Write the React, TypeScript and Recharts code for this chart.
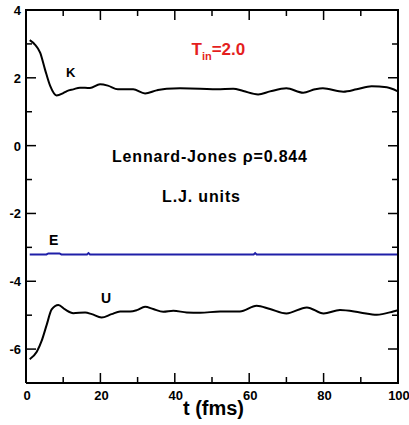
import React from 'react';
import { LineChart, Line, XAxis, YAxis } from 'recharts';

const kTime = [1, 2.4, 3.8, 5.1, 6.5, 8.2, 10, 11, 12.7, 14.5, 17.2, 19.9, 22, 24.7, 28.8, 32, 35.1, 37.8, 41.4, 46.8, 51.3, 55.7, 58.4, 62.4, 65.6, 70, 74.5, 77.7, 79.8, 85.3, 88.9, 92.9, 97, 99.8];
const kValues = [3.11, 2.98, 2.74, 2.25, 1.76, 1.48, 1.55, 1.61, 1.66, 1.71, 1.7, 1.81, 1.77, 1.66, 1.66, 1.54, 1.63, 1.68, 1.69, 1.68, 1.66, 1.68, 1.61, 1.51, 1.6, 1.69, 1.56, 1.66, 1.69, 1.59, 1.66, 1.75, 1.72, 1.61];

const uTime = [1, 2.9, 4.2, 5.6, 6.9, 8.7, 10.5, 12.7, 15.9, 17.7, 20.3, 23, 25.3, 28, 29.8, 32, 34.2, 36.9, 39.6, 43.2, 46.8, 52.2, 57.5, 62, 65.6, 70, 75.5, 80, 84.4, 89.8, 94.3, 98.7, 100];
const uValues = [-6.3, -6.08, -5.76, -5.27, -4.83, -4.7, -4.83, -4.94, -4.92, -4.97, -5.07, -4.97, -4.89, -4.89, -4.85, -4.75, -4.82, -4.9, -4.87, -4.92, -4.93, -4.89, -4.89, -4.72, -4.82, -4.95, -4.77, -4.95, -4.85, -4.92, -4.99, -4.89, -4.85];

const eTime = [1, 5.5, 6, 9, 9.5, 16.4, 16.8, 17.2, 61.2, 61.6, 62, 100];
const eValues = [-3.21, -3.21, -3.18, -3.18, -3.21, -3.21, -3.17, -3.21, -3.21, -3.17, -3.21, -3.21];

const xTicks = [0, 10, 20, 30, 40, 50, 60, 70, 80, 90, 100];
const xLabelEvery = 20;
const yTicks = [-7, -6, -5, -4, -3, -2, -1, 0, 1, 2, 3, 4];
const yLabelEvery = 2;
const xDomain = [0, 100];
const yDomain = [-7, 4];

const kData = kTime.map((t, i) => ({ t, v: kValues[i] }));
const uData = uTime.map((t, i) => ({ t, v: uValues[i] }));
const eData = eTime.map((t, i) => ({ t, v: eValues[i] }));

const FONT = '"Liberation Sans", Arial, Helvetica, sans-serif';
const MAJOR = 10;
const MINOR = 6;

const W = 409;
const H = 425;
const M = { top: 10, right: 11, bottom: 0, left: 0 };
const Y_AXIS_W = 26;
const X_AXIS_H = 42;
const PLOT = {
  left: M.left + Y_AXIS_W,
  right: W - M.right,
  top: M.top,
  bottom: H - M.bottom - X_AXIS_H,
};

const isMajor = (v: number, step: number) => Math.abs(Math.round(v) % step) === 0;
const seg = (x1: number, y1: number, x2: number, y2: number) => `M${x1},${y1}L${x2},${y2}`;
const tickStyle = { stroke: '#000', strokeWidth: 1.5, fill: 'none' };
const frameStyle = { stroke: '#000', strokeWidth: 2, fill: 'none' };

const BottomTick = (props: any) => {
  const { x, y, payload } = props;
  const major = isMajor(payload.value, xLabelEvery);
  return (
    <g>
      <path d={seg(x, y, x, y - (major ? MAJOR : MINOR))} stroke="#000" strokeWidth={1.5} style={tickStyle} />
      {major && (
        <text x={x + 1} y={y + 17} textAnchor="middle" fontFamily={FONT} fontWeight="bold" fontSize={13} fill="#000">
          {payload.value}
        </text>
      )}
    </g>
  );
};

const LeftTick = (props: any) => {
  const { x, y, payload } = props;
  const major = isMajor(payload.value, yLabelEvery);
  return (
    <g>
      <path d={seg(x, y, x + (major ? MAJOR : MINOR), y)} stroke="#000" strokeWidth={1.5} style={tickStyle} />
      {major && (
        <text x={x - 5} y={y + 5} textAnchor="end" fontFamily={FONT} fontWeight="bold" fontSize={13} fill="#000">
          {payload.value}
        </text>
      )}
    </g>
  );
};

const axisLine = { stroke: '#000', strokeWidth: 2 };

const px = (t: number) => PLOT.left + ((t - xDomain[0]) / (xDomain[1] - xDomain[0])) * (PLOT.right - PLOT.left);
const py = (v: number) => PLOT.bottom - ((v - yDomain[0]) / (yDomain[1] - yDomain[0])) * (PLOT.bottom - PLOT.top);

const framePath =
  seg(PLOT.left - 1, PLOT.top, PLOT.right + 1, PLOT.top) + seg(PLOT.right, PLOT.top, PLOT.right, PLOT.bottom + 1);
const mirrorTickPath =
  xTicks.map((t) => seg(px(t), PLOT.top, px(t), PLOT.top + (isMajor(t, xLabelEvery) ? MAJOR : MINOR))).join('') +
  yTicks.map((v) => seg(PLOT.right, py(v), PLOT.right - (isMajor(v, yLabelEvery) ? MAJOR : MINOR), py(v))).join('');

export default function App() {
  return (
    <div style={{ position: 'absolute', left: 0, top: 0, width: W, height: H, background: '#fff' }}>
      <LineChart width={W} height={H} margin={M}>
        <XAxis
          type="number"
          dataKey="t"
          domain={xDomain}
          ticks={xTicks}
          interval={0}
          allowDataOverflow
          height={X_AXIS_H}
          tickSize={0}
          tickMargin={0}
          tickLine={false}
          axisLine={axisLine}
          tick={<BottomTick />}
        />
        <YAxis
          type="number"
          domain={yDomain}
          ticks={yTicks}
          interval={0}
          allowDataOverflow
          width={Y_AXIS_W}
          tickSize={0}
          tickMargin={0}
          tickLine={false}
          axisLine={axisLine}
          tick={<LeftTick />}
        />
        <Line data={kData} dataKey="v" type="monotone" stroke="#000" strokeWidth={2} dot={false} isAnimationActive={false} />
        <Line data={uData} dataKey="v" type="monotone" stroke="#000" strokeWidth={2} dot={false} isAnimationActive={false} />
        <Line data={eData} dataKey="v" type="linear" stroke="#1f1fa8" strokeWidth={2} dot={false} isAnimationActive={false} />
      </LineChart>
      <svg width={W} height={H} style={{ position: 'absolute', left: 0, top: 0, pointerEvents: 'none', zIndex: 2 }}>
        <path d={framePath} stroke="#000" strokeWidth={2} style={frameStyle} />
        <path d={mirrorTickPath} stroke="#000" strokeWidth={1.5} style={tickStyle} />
        <g fontFamily={FONT} fontWeight="bold" fill="#000">
          <text x={66} y={77} fontSize={13}>K</text>
          <text x={49} y={245} fontSize={14}>E</text>
          <text x={101} y={303} fontSize={14}>U</text>
          <text x={112} y={162} fontSize={16} textLength={195} lengthAdjust="spacing">Lennard-Jones  ρ=0.844</text>
          <text x={162} y={202} fontSize={16} textLength={78} lengthAdjust="spacing">L.J. units</text>
          <text x={183} y={415} fontSize={20} textLength={61} lengthAdjust="spacing">t (fms)</text>
          <text x={191.5} y={55} fontSize={17} fill="#e41e1e">
            T<tspan fontSize={11} dy={5}>in</tspan>
            <tspan dy={-5}>=2.0</tspan>
          </text>
        </g>
      </svg>
    </div>
  );
}
